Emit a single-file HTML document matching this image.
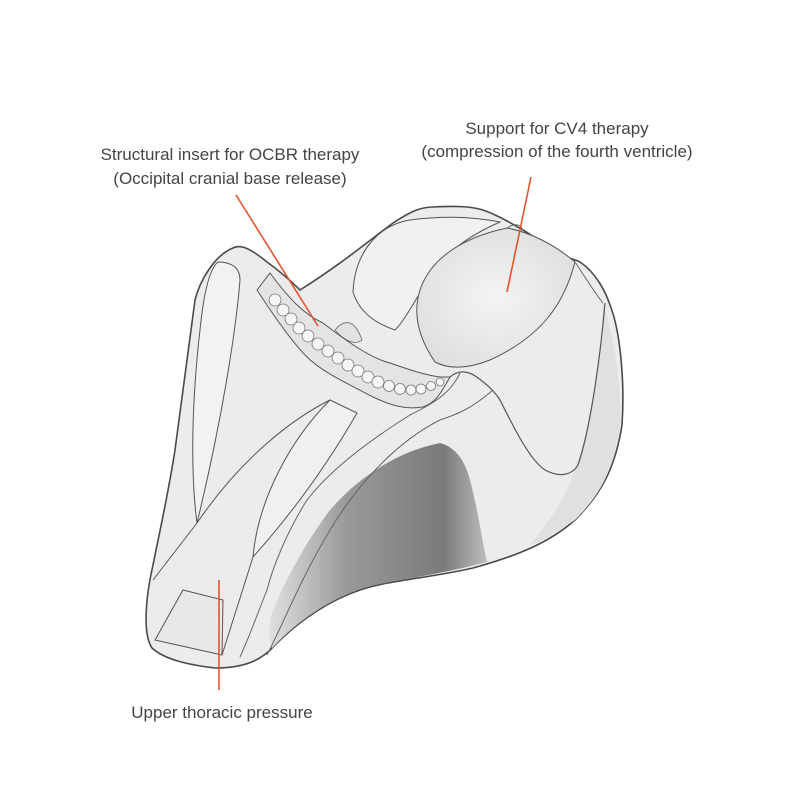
<!DOCTYPE html>
<html><head><style>
html,body{margin:0;padding:0;background:#fff;}
.t{font-family:"Liberation Sans",sans-serif;font-size:17px;fill:#444;}
</style></head><body>
<svg width="800" height="800" viewBox="0 0 800 800" xmlns="http://www.w3.org/2000/svg">
<defs>
<linearGradient id="dk" x1="0" y1="0" x2="1" y2="0">
<stop offset="0" stop-color="#e0e0e0"/><stop offset="0.35" stop-color="#9a9a9a"/><stop offset="0.8" stop-color="#7a7a7a"/><stop offset="1" stop-color="#bdbdbd"/>
</linearGradient>
<radialGradient id="bw" cx="0.5" cy="0.5" r="0.6">
<stop offset="0" stop-color="#f4f4f4"/><stop offset="1" stop-color="#dedede"/>
</radialGradient>
</defs>
<!-- outer body -->
<path d="M233,248 C240,244 250,248 267,262 C285,275 295,285 300,290 C340,265 370,240 393,223 C410,212 420,207 433,207 C455,206 470,206 483,210 C500,216 512,224 523,230 C540,240 550,250 557,253 C565,258 572,258 580,262 C595,272 605,290 610,305 C620,330 625,380 622,425 C615,470 600,495 575,520 C550,542 520,555 473,568 C430,578 390,580 360,590 C330,600 300,620 275,645 C262,660 245,668 215,668 C190,665 165,660 152,648 C143,635 145,600 153,565 C160,530 168,495 175,450 C182,400 188,350 195,300 C200,280 215,255 233,248 Z" fill="#ececec" stroke="#4a4a4a" stroke-width="1.6"/>
<!-- dark side -->
<path d="M440,443 C455,447 465,460 470,480 C478,510 482,540 487,562 C450,572 410,578 370,586 C335,596 300,618 272,648 C268,635 268,620 275,605 C295,560 315,530 330,510 C365,470 405,450 440,443 Z" fill="url(#dk)"/>
<!-- right side face -->
<path d="M573,473 C590,430 600,380 603,303 C612,330 622,380 620,425 C614,470 600,495 575,520 C560,530 545,540 530,545 C550,520 565,500 573,473 Z" fill="#e0e0e0"/>
<!-- dome -->
<path d="M353,292 C355,250 380,225 410,220 C440,216 470,216 500,222 C470,235 440,255 425,285 C415,300 405,320 395,330 C380,325 360,315 353,292 Z" fill="#f1f1f1" stroke="#555" stroke-width="1"/>
<!-- bowl -->
<path d="M420,290 C430,260 460,238 507,228 C530,232 555,245 575,262 C565,300 545,335 490,360 C470,368 450,370 435,362 C420,340 412,315 420,290 Z" fill="url(#bw)" stroke="#555" stroke-width="1"/>
<path d="M507,228 C515,223 520,224 523,230" fill="none" stroke="#666" stroke-width="1"/>
<path d="M575,262 C590,285 600,300 603,303" fill="none" stroke="#666" stroke-width="1"/>
<!-- small hole behind insert -->
<path d="M335,330 C345,318 355,320 362,340 C356,345 345,342 335,330 Z" fill="#e2e2e2" stroke="#666" stroke-width="0.8"/>
<!-- insert strip -->
<path d="M257,290 L270,273 C290,300 305,315 323,323 C345,340 370,358 390,363 C410,370 425,375 440,377 L450,377 C440,395 435,403 423,407 C405,410 390,405 373,397 C340,380 320,370 307,357 C290,340 270,310 257,290 Z" fill="#e4e4e4" stroke="#555" stroke-width="1"/>
<g fill="#f5f5f5" stroke="#777" stroke-width="0.8">
<circle cx="275" cy="300" r="6"/><circle cx="283" cy="310" r="6"/><circle cx="291" cy="319" r="6"/><circle cx="299" cy="328" r="6"/><circle cx="308" cy="336" r="6"/><circle cx="318" cy="344" r="6"/><circle cx="328" cy="351" r="6"/><circle cx="338" cy="358" r="6"/><circle cx="348" cy="365" r="6"/><circle cx="358" cy="371" r="6"/><circle cx="368" cy="377" r="6"/><circle cx="378" cy="382" r="6"/><circle cx="389" cy="386" r="5.5"/><circle cx="400" cy="389" r="5.5"/><circle cx="411" cy="390" r="5"/><circle cx="421" cy="389" r="5"/><circle cx="431" cy="386" r="4.5"/><circle cx="440" cy="382" r="4"/>
</g>
<!-- rim ridge (front, right) -->
<path d="M450,377 C458,370 468,370 478,378 C488,385 495,392 500,400 C515,430 530,460 545,470 C560,478 572,475 578,465 C590,430 600,360 605,303" fill="none" stroke="#555" stroke-width="1.2"/>
<path d="M493,390 C470,410 455,415 440,420 C400,440 360,480 330,530 C300,580 285,620 267,655" fill="none" stroke="#666" stroke-width="1"/>
<path d="M460,373 C450,395 430,405 410,415 C370,440 330,470 307,500 C285,535 272,570 267,590 C255,620 248,640 240,657" fill="none" stroke="#666" stroke-width="1"/>
<!-- left arm strip -->
<path d="M218,262 C232,262 240,268 240,280 C236,330 222,420 197,523 C190,470 192,400 200,330 C203,300 208,270 218,262 Z" fill="#f2f2f2" stroke="#555" stroke-width="1"/>
<!-- central channel -->
<path d="M330,400 L357,413 C330,460 295,510 253,557 C258,500 290,440 330,400 Z" fill="#f0f0f0" stroke="#555" stroke-width="1"/>
<path d="M330,400 C290,420 240,460 197,523 L153,580" fill="none" stroke="#555" stroke-width="1"/>
<path d="M253,557 L222,655" fill="none" stroke="#555" stroke-width="1"/>
<path d="M183,590 L223,600 L222,655 L155,640 Z" fill="#e8e8e8" stroke="#555" stroke-width="1"/>
<!-- red leader lines -->
<g stroke="#e4532f" stroke-width="1.6">
<line x1="236" y1="195" x2="318" y2="326"/>
<line x1="531" y1="177" x2="507" y2="292"/>
<line x1="219" y1="580" x2="219" y2="690"/>
</g>
<text class="t" x="230" y="160" text-anchor="middle">Structural insert for OCBR therapy</text>
<text class="t" x="230" y="184" text-anchor="middle">(Occipital cranial base release)</text>
<text class="t" x="557" y="134" text-anchor="middle">Support for CV4 therapy</text>
<text class="t" x="557" y="157" text-anchor="middle">(compression of the fourth ventricle)</text>
<text class="t" x="222" y="718" text-anchor="middle">Upper thoracic pressure</text>
</svg>
</body></html>
